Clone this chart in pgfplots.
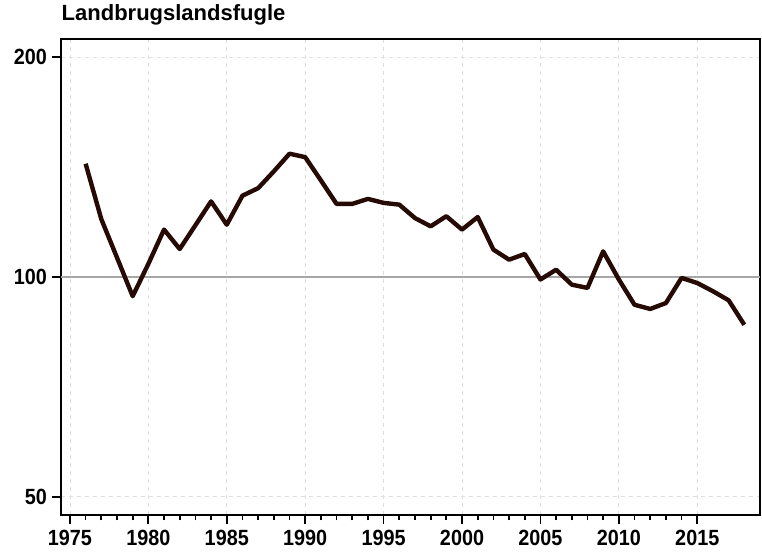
\documentclass[border=0pt]{standalone}
\usepackage{pgfplots}
\pgfplotsset{compat=1.18}
\usepackage{fontspec}
\setmainfont{Liberation Sans}
\newfontfamily\tickfont[FakeStretch=0.9]{Liberation Sans Bold}
\begin{document}
\begin{tikzpicture}
\begin{axis}[
  name=ax,
  scale only axis,
  width=524.25pt, height=357pt,
  xmin=1974.43, xmax=2019,
  ymode=log, ymin=47.2, ymax=211.7,
  ytick={50,100,200}, yticklabels={50,100,200},
  yminorticks=false,
  xtick={1975,1980,...,2015},
  minor x tick num=4,
  tick align=outside,
  xtick pos=left, ytick pos=left,
  major tick length=7pt, minor tick length=4pt,
  tick style={black, line width=1.3pt},
  axis line style={black, line width=1.4pt},
  /pgf/number format/assume math mode=true,
  /pgf/number format/1000 sep={},
  tick label style={font=\tickfont\fontsize{16.5}{18}\selectfont},
  xticklabel style={yshift=-1pt},
  yticklabel style={xshift=0pt},
  xmajorgrids, ymajorgrids,
  grid style={gray!25, dashed, line width=0.6pt},
  title={\bfseries Landbrugslandsfugle},
  title style={font=\fontsize{16.5}{18}\selectfont, anchor=south west, at={(rel axis cs:0,1)}, xshift=-3pt, yshift=1pt},
  clip=true,
]
\addplot[forget plot, gray!70, line width=1.2pt] coordinates {(1974.43,100) (2019,100)};
\addplot[line width=3.3pt, color={rgb,255:red,38;green,10;blue,4}, line join=round] coordinates {
(1976,142.9) (1977,120.0) (1978,106.3) (1979,94.1) (1980,104.2)
(1981,116.1) (1982,109.2) (1983,117.7) (1984,126.9) (1985,117.9)
(1986,129.2) (1987,132.3) (1988,139.5) (1989,147.5) (1990,145.9)
(1991,135.6) (1992,125.9) (1993,125.9) (1994,127.9) (1995,126.3)
(1996,125.6) (1997,120.4) (1998,117.3) (1999,121.1) (2000,116.1)
(2001,120.8) (2002,109.0) (2003,105.6) (2004,107.5) (2005,99.2)
(2006,102.3) (2007,97.6) (2008,96.6) (2009,108.4) (2010,99.2)
(2011,91.6) (2012,90.4) (2013,92.1) (2014,99.7) (2015,98.1)
(2016,95.6) (2017,92.9) (2018,86.0)
};
\end{axis}
\path ([xshift=-45.75pt, yshift=-30pt]ax.south west) rectangle ([xshift=1.5pt, yshift=27.75pt]ax.north east);
\end{tikzpicture}
\end{document}
